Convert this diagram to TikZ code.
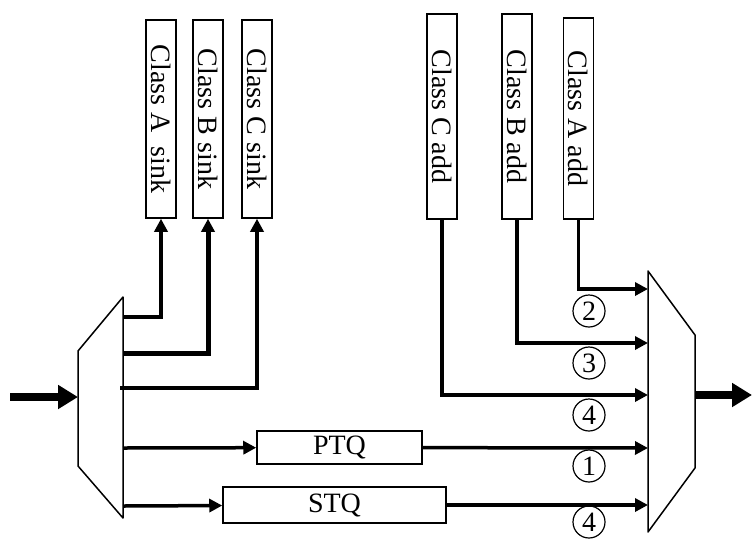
\documentclass[tikz,border=0pt]{standalone}
\usepackage{fontspec}
\setmainfont{Liberation Serif}
\usetikzlibrary{arrows.meta,positioning}
\newcommand{\bigtext}{\fontsize{28}{31}\selectfont}
\tikzset{box/.style={draw,line width=1.5pt,inner sep=0pt,font=\bigtext},
  classbox/.style={box,rotate=-90,minimum height=30pt},
  flow/.style={-{Triangle[length=13pt,width=13pt]},line width=3.5pt},
  bigflow/.style={-{Triangle[length=20pt,width=23pt]},line width=7.5pt},
  mux/.style={draw,line width=1.5pt,line join=round},
  tag/.style={draw,circle,line width=1.2pt,minimum size=32pt,inner sep=0pt,font=\bigtext}}
\begin{document}
\begin{tikzpicture}[x=1pt,y=-1pt]
\useasboundingbox (0,0) rectangle (752,539);
% multiplexers
\draw[mux] (78,351) -- (123,297) -- (123,518) -- (78,466) -- cycle;
\draw[mux] (648,271) -- (695,335) -- (695,468) -- (648,532) -- cycle;
\coordinate (src) at (10,397); \coordinate (min) at (78,397);
\coordinate (mout) at (695,395); \coordinate (dst) at (752,395);
\coordinate (lo1) at (123,317); \coordinate (lo2) at (123,353);
\coordinate (lo3) at (120,388); \coordinate (lo4) at (123,448);
\coordinate (lo5) at (123,506);
\coordinate (ri1) at (648,289); \coordinate (ri2) at (648,343);
\coordinate (ri3) at (648,395); \coordinate (ri4) at (648,448);
\coordinate (ri5) at (648,505);
% class boxes
\node[classbox,minimum width=198pt] (sa) at (161,119) {Class A~ sink};
\node[classbox,minimum width=198pt] (sb) at (208,119) {Class B sink};
\node[classbox,minimum width=198pt] (sc) at (257,119) {Class C sink};
\node[classbox,minimum width=205pt] (ca) at (442,116.5) {Class C add};
\node[classbox,minimum width=205pt] (ba) at (517,116.5) {Class B add};
\node[classbox,minimum width=201pt] (aa) at (578.5,118.5) {Class A add};
% queues
\node[box,minimum width=165pt,minimum height=33pt] (ptq) at (339.5,447.5) {PTQ};
\node[box,minimum width=223pt,minimum height=36pt] (stq) at (334.5,505) {STQ};
% tags
\node[tag] (t2) at (589,311) {2};
\node[tag] (t3) at (589,363) {3};
\node[tag] (t4) at (589,415) {4};
\node[tag] (t1) at (589,466) {1};
\node[tag] (t4b) at (589,522) {4};
% connectors
\draw[bigflow] (src) -- (min);
\draw[bigflow] (mout) -- (dst);
\draw[flow] (lo1) -| (sa.east);
\draw[flow,line width=5pt] (lo2) -| (sb.east);
\draw[flow] (lo3) -| (sc.east);
\draw[flow] (lo4) -- (ptq);
\draw[flow] (lo5) -- (stq);
\draw[flow] (aa.east) |- (ri1);
\draw[flow] (ba.east) |- (ri2);
\draw[flow] (ca.east) |- (ri3);
\draw[flow] (ptq) -- (ri4);
\draw[flow] (stq) -- (ri5);
\end{tikzpicture}
\end{document}
